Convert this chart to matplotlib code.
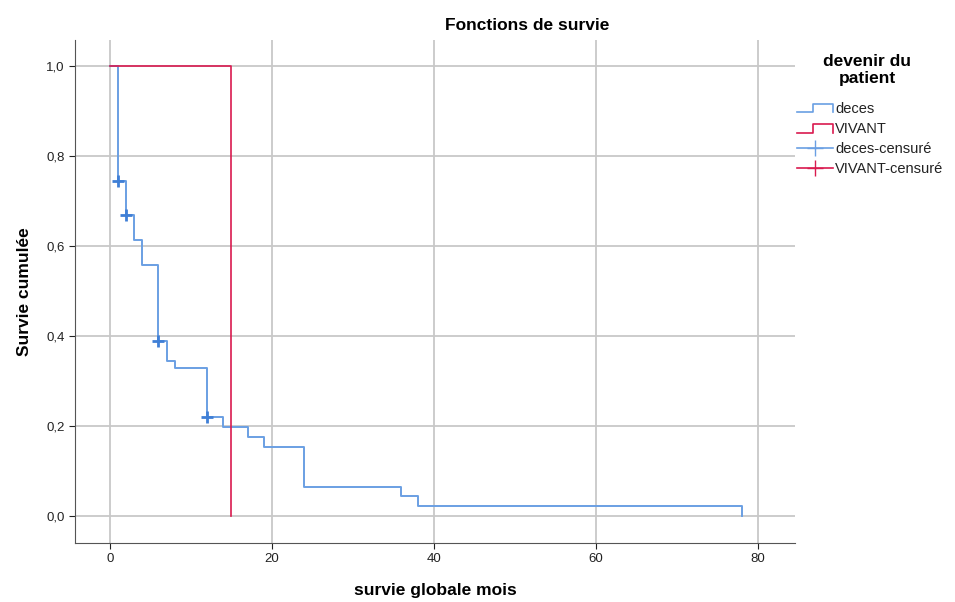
import numpy as np
import matplotlib
matplotlib.use("Agg")
import matplotlib.pyplot as plt
from matplotlib.lines import Line2D
from matplotlib.legend_handler import HandlerBase

plt.rcParams['font.family'] = ['Liberation Sans', 'DejaVu Sans']

# survival curve data (steps)
deces_t = [0, 1, 2, 3, 4, 6, 7, 8, 12, 14, 17, 19, 24, 36, 38, 78]
deces_s = [1.0, 0.744, 0.670, 0.614, 0.558, 0.390, 0.344, 0.329, 0.219, 0.198,
           0.175, 0.153, 0.065, 0.044, 0.022, 0.0]
deces_cens_t = [1, 2, 6, 12]
deces_cens_s = [0.744, 0.670, 0.390, 0.219]

vivant_t = [0, 15]
vivant_s = [1.0, 0.0]

blue = '#6a9fe3'
blue_dark = '#3f7fd6'
red = '#d91a4f'


class StepHandler(HandlerBase):
    def create_artists(self, legend, orig, xd, yd, w, h, fs, trans):
        x = [xd, xd + w * 0.45, xd + w * 0.45, xd + w, xd + w]
        y = [h * 0.05, h * 0.05, h * 0.85, h * 0.85, h * 0.05]
        ln = Line2D(x, y, color=orig.get_color(), lw=1.2, transform=trans)
        return [ln]


fig = plt.figure(figsize=(9.55, 6.02), dpi=100)
ax = fig.add_axes([75 / 955, 59 / 602, 720 / 955, 503 / 602])

ax.step(deces_t, deces_s, where='post', color=blue, lw=1.4)
ax.plot(deces_cens_t, deces_cens_s, ls='none', marker='+', ms=9, mew=2, color=blue_dark)
ax.step(vivant_t, vivant_s, where='post', color=red, lw=1.2)

ax.set_xlim(-4.3, 84.6)
ax.set_ylim(-0.06, 1.058)
ax.set_xticks([0, 20, 40, 60, 80])
ax.set_yticks([0.0, 0.2, 0.4, 0.6, 0.8, 1.0])
ax.set_yticklabels(['0,0', '0,2', '0,4', '0,6', '0,8', '1,0'])
ax.tick_params(labelsize=9.5, colors='#222222', length=4)
ax.grid(True, color='#c8c8c8', lw=1.3)
ax.set_axisbelow(True)
for s in ['top', 'right']:
    ax.spines[s].set_visible(False)
for s in ['left', 'bottom']:
    ax.spines[s].set_color('#555555')

ax.set_ylabel('Survie cumulée', fontsize=12.5, fontweight='bold', labelpad=10)
fig.text(435 / 955, 1 - 590 / 602, 'survie globale mois', ha='center', va='center',
         fontsize=12.5, fontweight='bold')
fig.text(527 / 955, 1 - 25 / 602, 'Fonctions de survie', ha='center', va='center',
         fontsize=12.5, fontweight='bold')

# legend title as separate text, centred
fig.text(867 / 955, 1 - 70 / 602, 'devenir du\npatient', ha='center', va='center',
         fontsize=12.5, fontweight='bold', linespacing=1.15)

h1 = Line2D([], [], color=blue)
h2 = Line2D([], [], color=red)
h3 = Line2D([], [], color=blue, marker='+', ms=12, lw=1.2)
h4 = Line2D([], [], color=red, marker='+', ms=12, lw=1.2)
leg = fig.legend([h1, h2, h3, h4], ['deces', 'VIVANT', 'deces-censuré', 'VIVANT-censuré'],
                 loc='upper left', bbox_to_anchor=(797 / 955, 1 - 102 / 602),
                 frameon=False, fontsize=10.5, handlelength=2.5, handletextpad=0.1,
                 labelspacing=0.42, borderaxespad=0, borderpad=0,
                 handler_map={h1: StepHandler(), h2: StepHandler()})
for t in leg.get_texts():
    t.set_color('#222222')

fig.savefig('out.png', dpi=100)
